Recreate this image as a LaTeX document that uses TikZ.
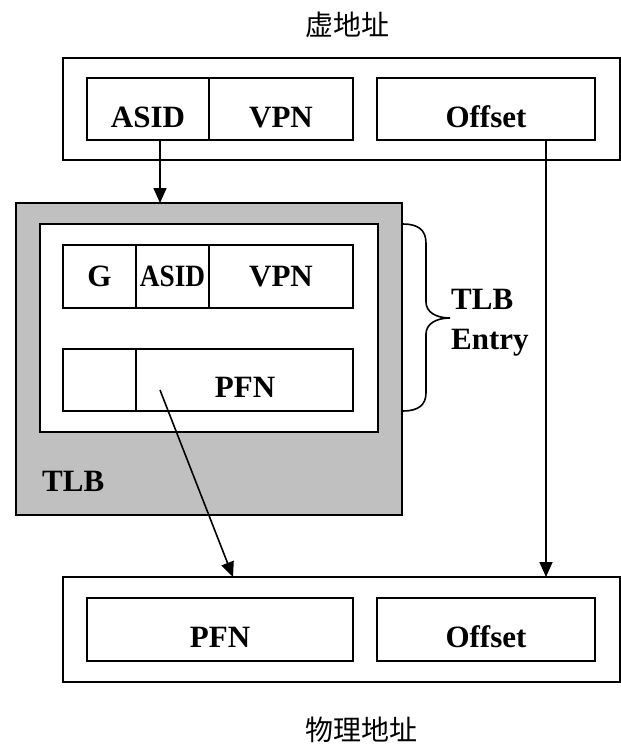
\documentclass[tikz,border=0pt]{standalone}
\usepackage{fontspec}
\setmainfont{Liberation Serif}
\newfontfamily\cjk{Noto Sans CJK SC}
\usetikzlibrary{arrows.meta,calc}
\definecolor{tlbgray}{RGB}{192,192,192}
\begin{document}
\begin{tikzpicture}[x=1pt,y=-1pt,
  box/.style={draw=black, line width=1.5pt, fill=white, inner sep=0pt, outer sep=0pt, anchor=center},
  lbl/.style={font=\fontsize{31}{37}\selectfont\bfseries},
  lowtxt/.style={text height=36pt, text depth=0pt},
  title/.style={font=\fontsize{28}{32}\selectfont\cjk, inner sep=0pt},
  conn/.style={line width=1.6pt, -{Triangle[length=15pt,width=13pt]}},
  plain/.style={line width=1.6pt}
]
\useasboundingbox (0,0) rectangle (621,745);

% virtual address
\node[title] (vtitle) at (347,25) {虚地址};
\node[box, minimum width=557pt, minimum height=102pt] (vout) at (341.5,109) {};
\node[box, lbl, lowtxt, minimum width=122pt, minimum height=62pt] (vasid) at (148,109) {ASID};
\node[box, lbl, lowtxt, minimum width=144pt, minimum height=62pt] (vvpn) at (281,109) {VPN};
\node[box, lbl, lowtxt, minimum width=218pt, minimum height=62pt] (voff) at (486,109) {Offset};

% TLB
\node[box, fill=tlbgray, minimum width=386pt, minimum height=312pt] (tlb) at (209,359) {};
\node[box, minimum width=338pt, minimum height=208pt] (entry) at (209,328) {};
\node[box, lbl, minimum width=73pt, minimum height=63pt] (eg) at (99.5,276.5) {G};
\node[box, lbl, minimum width=73pt, minimum height=63pt] (easid) at (172.5,276.5) {\scalebox{0.88}[1]{ASID}};
\node[box, lbl, minimum width=144pt, minimum height=63pt] (evpn) at (281,276.5) {VPN};
\node[box, minimum width=73pt, minimum height=62pt] (eblank) at (99.5,380) {};
\node[box, minimum width=217pt, minimum height=62pt] (epfn) at (244.5,380) {};
\node[lbl, inner sep=0pt] (epfntxt) at (245,387) {PFN};
\node[lbl, anchor=west, inner sep=0pt] (tlbtxt) at (42,481) {TLB};

% brace and label
\draw[plain] (403,224) .. controls (418,224) and (426,230) .. (426,243)
  -- (426,302) .. controls (426,312) and (436,318) .. (450,318)
  .. controls (436,318) and (426,324) .. (426,334)
  -- (426,393) .. controls (426,405) and (418,411) .. (403,411);
\node[lbl, anchor=west, align=left, inner sep=0pt, font=\fontsize{31}{40}\selectfont\bfseries] (etxt) at (451,323) {TLB\\Entry};

% physical address
\node[box, minimum width=557pt, minimum height=105pt] (pout) at (341.5,629.5) {};
\node[box, lbl, lowtxt, minimum width=266pt, minimum height=63pt] (ppfn) at (220,629.5) {PFN};
\node[box, lbl, lowtxt, minimum width=218pt, minimum height=63pt] (poff) at (486,629.5) {Offset};
\node[title] (ptitle) at (361,730) {物理地址};

% connectors
\coordinate (ax) at (160,0);
\coordinate (ox) at (546,0);
\coordinate (px) at (233,0);
\coordinate (pstart) at (160,390);
\draw[conn] (vasid.south -| ax) -- (tlb.north -| ax);
\draw[conn] (voff.south -| ox) -- (pout.north -| ox);
\draw[conn] (pstart) -- (pout.north -| px);
\end{tikzpicture}
\end{document}
